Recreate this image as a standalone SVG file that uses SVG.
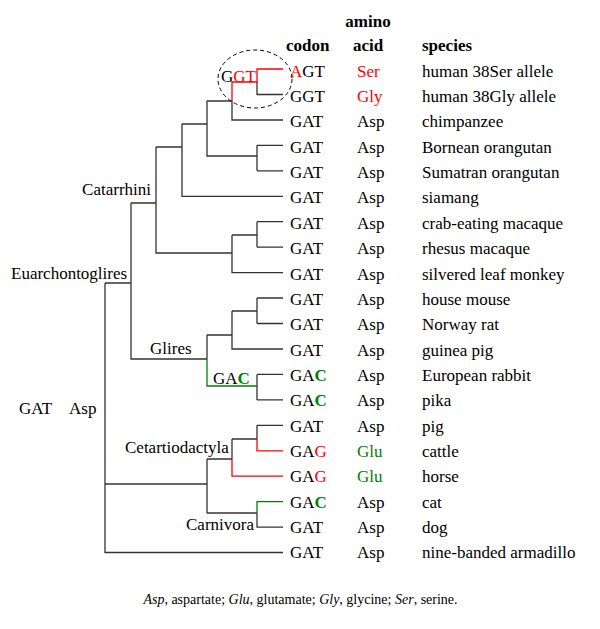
<svg xmlns="http://www.w3.org/2000/svg" width="600" height="629" viewBox="0 0 600 629">
<style>
text{font-family:"Liberation Serif","Times New Roman",serif;font-size:17px;fill:#000}
.h{font-weight:bold}
.r{fill:#ff0000}
.g{fill:#008000}
.gb{fill:#008000;font-weight:bold}
.k{fill:none;stroke:#333;stroke-width:1.3}
.kr{fill:none;stroke:#ff0000;stroke-width:1.3}
.kg{fill:none;stroke:#008000;stroke-width:1.3}
.cap{font-size:14px}
</style>
<rect width="600" height="629" fill="#fff"/>
<g id="connectors">
<path class="k" d="M257 82V94.5H283M232 101V120H283M207 101H232M207 101V156H257M257 145.3V170.8M257 145.3H283M257 170.8H283M182 124H207M182 124V196.3H283M156 147H182M156 147V253H232M232 235H257M232 235V272.6H283M257 221.7V247.2M257 221.7H283M257 247.2H283M131 203H156M131 203V359H207M105 283H131M105 283V552.5H283M207 335V359M207 335H232M232 311V349H283M232 311H257M257 298V323.5M257 298H283M257 323.5H283M257 374.4V399.9M257 374.4H283M257 399.9H283M105 484H207M207 459V513M207 459H232M232 439V459M232 439H257M257 425.3V439M257 425.3H283M207 513H257M257 513V527.1H283"/>
<path class="kr" d="M283 69H257V82H232V101M257 439V450.8H283M232 459V476.2H283"/>
<path class="kg" d="M207 359V386H257M257 513V501.7H283"/>
<ellipse cx="255" cy="79" rx="37" ry="29" fill="none" stroke="#000" stroke-width="1" stroke-dasharray="4,3"/>
</g>
<g id="header">
<text class="h" x="368" y="27" text-anchor="middle">amino</text>
<text class="h" x="286" y="50.5">codon</text>
<text class="h" x="368" y="50.5" text-anchor="middle">acid</text>
<text class="h" x="422" y="50.5">species</text>
</g>
<g id="clades">
<text x="221" y="81.5">G<tspan class="r">GT</tspan></text>
<text x="151" y="195" text-anchor="end">Catarrhini</text>
<text x="11" y="279">Euarchontoglires</text>
<text x="150" y="354">Glires</text>
<text x="213" y="384">GA<tspan class="gb">C</tspan></text>
<text x="19" y="414">GAT</text>
<text x="69" y="414">Asp</text>
<text x="125" y="453">Cetartiodactyla</text>
<text x="186" y="530">Carnivora</text>
</g>
<g id="n0"><text x="290" y="76.7"><tspan class="r">A</tspan>GT</text><text class="r" x="357" y="76.7">Ser</text><text x="422" y="76.7">human 38Ser allele</text></g>
<g id="n1"><text x="290" y="102.05">GGT</text><text class="r" x="357" y="102.05">Gly</text><text x="422" y="102.05">human 38Gly allele</text></g>
<g id="n2"><text x="290" y="127.4">GAT</text><text x="357" y="127.4">Asp</text><text x="422" y="127.4">chimpanzee</text></g>
<g id="n3"><text x="290" y="152.75">GAT</text><text x="357" y="152.75">Asp</text><text x="422" y="152.75">Bornean orangutan</text></g>
<g id="n4"><text x="290" y="178.1">GAT</text><text x="357" y="178.1">Asp</text><text x="422" y="178.1">Sumatran orangutan</text></g>
<g id="n5"><text x="290" y="203.45">GAT</text><text x="357" y="203.45">Asp</text><text x="422" y="203.45">siamang</text></g>
<g id="n6"><text x="290" y="228.8">GAT</text><text x="357" y="228.8">Asp</text><text x="422" y="228.8">crab-eating macaque</text></g>
<g id="n7"><text x="290" y="254.15">GAT</text><text x="357" y="254.15">Asp</text><text x="422" y="254.15">rhesus macaque</text></g>
<g id="n8"><text x="290" y="279.5">GAT</text><text x="357" y="279.5">Asp</text><text x="422" y="279.5">silvered leaf monkey</text></g>
<g id="n9"><text x="290" y="304.85">GAT</text><text x="357" y="304.85">Asp</text><text x="422" y="304.85">house mouse</text></g>
<g id="n10"><text x="290" y="330.2">GAT</text><text x="357" y="330.2">Asp</text><text x="422" y="330.2">Norway rat</text></g>
<g id="n11"><text x="290" y="355.55">GAT</text><text x="357" y="355.55">Asp</text><text x="422" y="355.55">guinea pig</text></g>
<g id="n12"><text x="290" y="380.9">GA<tspan class="gb">C</tspan></text><text x="357" y="380.9">Asp</text><text x="422" y="380.9">European rabbit</text></g>
<g id="n13"><text x="290" y="406.25">GA<tspan class="gb">C</tspan></text><text x="357" y="406.25">Asp</text><text x="422" y="406.25">pika</text></g>
<g id="n14"><text x="290" y="431.6">GAT</text><text x="357" y="431.6">Asp</text><text x="422" y="431.6">pig</text></g>
<g id="n15"><text x="290" y="456.95">GA<tspan class="r">G</tspan></text><text class="g" x="357" y="456.95">Glu</text><text x="422" y="456.95">cattle</text></g>
<g id="n16"><text x="290" y="482.3">GA<tspan class="r">G</tspan></text><text class="g" x="357" y="482.3">Glu</text><text x="422" y="482.3">horse</text></g>
<g id="n17"><text x="290" y="507.65">GA<tspan class="gb">C</tspan></text><text x="357" y="507.65">Asp</text><text x="422" y="507.65">cat</text></g>
<g id="n18"><text x="290" y="533">GAT</text><text x="357" y="533">Asp</text><text x="422" y="533">dog</text></g>
<g id="n19"><text x="290" y="558.35">GAT</text><text x="357" y="558.35">Asp</text><text x="422" y="558.35">nine-banded armadillo</text></g>
<g id="caption"><text class="cap" x="300.5" y="604" text-anchor="middle"><tspan font-style="italic">Asp</tspan>, aspartate; <tspan font-style="italic">Glu</tspan>, glutamate; <tspan font-style="italic">Gly</tspan>, glycine; <tspan font-style="italic">Ser</tspan>, serine.</text></g>
</svg>
